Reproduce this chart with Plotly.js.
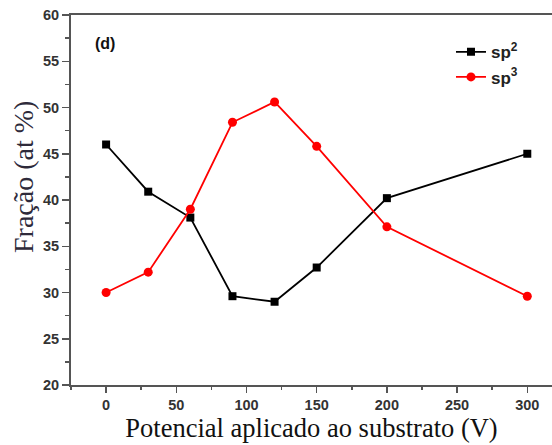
<!DOCTYPE html>
<html>
<head>
<meta charset="utf-8">
<script src="https://cdn.plot.ly/plotly-3.0.1.min.js"></script>
<style>html,body{margin:0;padding:0;background:#fff;}#chart{width:552px;height:445px;}</style>
</head>
<body>
<div id="chart"></div>
<script>
const voltage = [0, 30, 60, 90, 120, 150, 200, 300];
const sp2 = [46.0, 40.9, 38.1, 29.6, 29.0, 32.7, 40.2, 45.0];
const sp3 = [30.0, 32.2, 39.0, 48.4, 50.6, 45.8, 37.1, 29.6];
const seriesNames = ['sp<sup>2</sup>', 'sp<sup>3</sup>'];
const xTickVals = [0, 50, 100, 150, 200, 250, 300];
const xTitle = 'Potencial aplicado ao substrato (V)';
const yTitle = 'Fração (at %)';
const panelLabel = '(d)';

const tickFont = {family: 'Liberation Sans, Arial, sans-serif', size: 14.5, color: '#333', weight: 'bold'};
const traces = [
  {x: voltage, y: sp2, name: seriesNames[0], mode: 'lines+markers',
   line: {color: '#000', width: 1.8}, marker: {symbol: 'square', size: 8, color: '#000'}},
  {x: voltage, y: sp3, name: seriesNames[1], mode: 'lines+markers',
   line: {color: '#ff0000', width: 1.8}, marker: {symbol: 'circle', size: 9, color: '#ff0000'}}
];
const layout = {
  width: 552, height: 445,
  margin: {l: 71, r: 0, t: 15, b: 60},
  paper_bgcolor: '#fff', plot_bgcolor: '#fff',
  showlegend: true,
  legend: {x: 0.79, y: 0.948, xanchor: 'left', yanchor: 'top',
    font: {family: 'Liberation Sans, Arial, sans-serif', size: 17, color: '#222', weight: 'bold'},
    bgcolor: 'rgba(0,0,0,0)', tracegroupgap: 0},
  xaxis: {
    range: [-25, 317.6], showgrid: false, zeroline: false,
    showline: true, linecolor: '#555', linewidth: 2, mirror: true,
    ticks: 'outside', ticklen: 6, tickwidth: 1.5, tickcolor: '#555',
    tickvals: xTickVals,
    minor: {dtick: 25, tick0: 25, ticks: 'outside', ticklen: 3, tickcolor: '#555', tickwidth: 1.5},
    tickfont: tickFont,
    title: {text: xTitle, font: {family: 'Liberation Serif, Times New Roman, serif', size: 26.5, color: '#111'}, standoff: 2}
  },
  yaxis: {
    range: [20, 60], showgrid: false, zeroline: false,
    showline: true, linecolor: '#555', linewidth: 2, mirror: false,
    ticks: 'outside', ticklen: 7, tickwidth: 1.5, tickcolor: '#555',
    dtick: 5, tick0: 20,
    minor: {dtick: 2.5, ticks: 'outside', ticklen: 4, tickcolor: '#555', tickwidth: 1.5},
    tickfont: tickFont
  },
  annotations: [
    {text: yTitle, xref: 'paper', yref: 'paper', x: -71/481 + 23/481, y: (385-177)/370,
     xanchor: 'center', yanchor: 'middle', textangle: -90, showarrow: false,
     font: {family: 'Liberation Serif, Times New Roman, serif', size: 28, color: '#2e2a3a'}},
    {text: panelLabel, xref: 'paper', yref: 'paper', x: (93-71)/481, y: (385-44)/370,
     xanchor: 'left', yanchor: 'middle', showarrow: false,
     font: {family: 'Liberation Sans, Arial, sans-serif', size: 16, color: '#111', weight: 'bold'}}
  ]
};
Plotly.newPlot('chart', traces, layout, {displayModeBar: false, staticPlot: true});
</script>
</body>
</html>
